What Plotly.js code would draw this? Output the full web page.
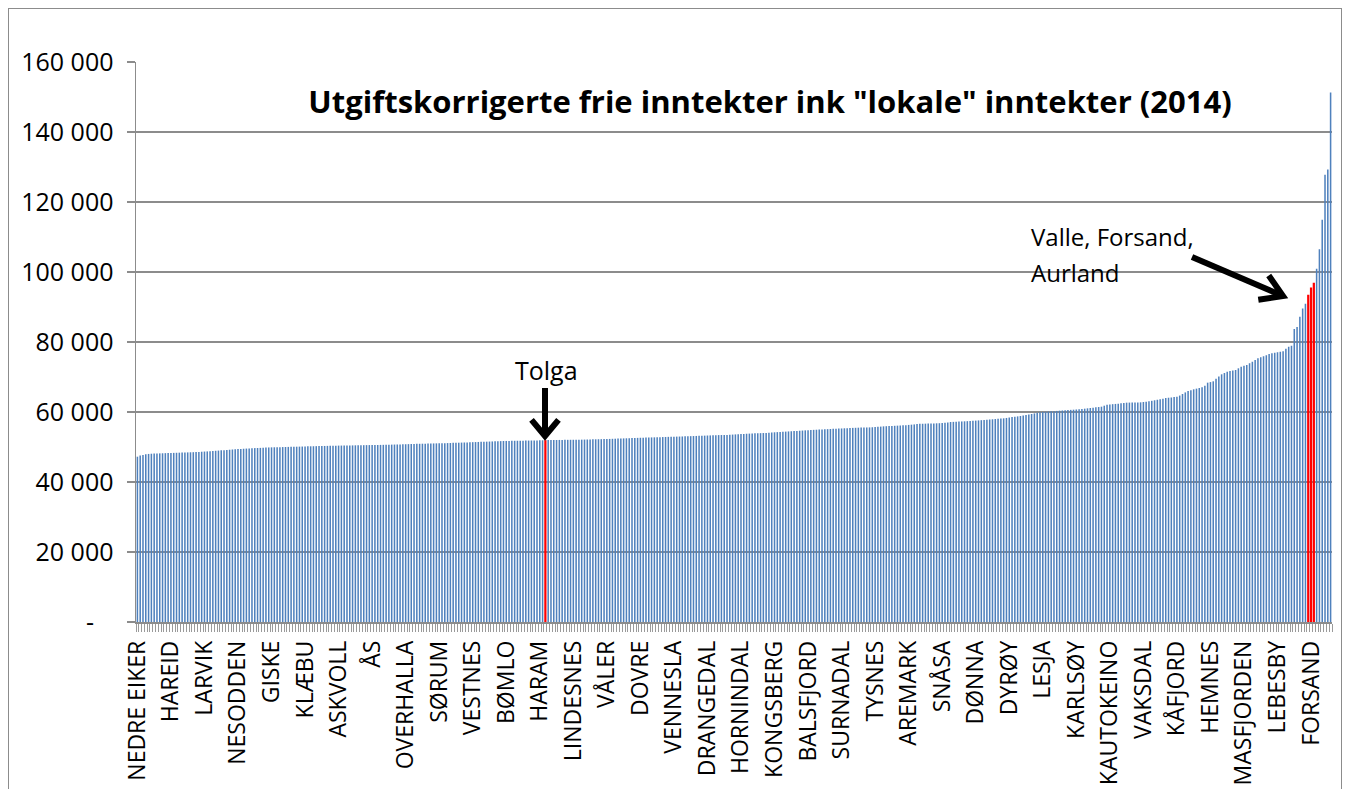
<!DOCTYPE html>
<html>
<head>
<meta charset="utf-8">
<script src="https://cdn.plot.ly/plotly-3.0.1.min.js"></script>
<style>
  html, body { margin: 0; padding: 0; background: #fff; overflow: hidden; }
  #chart { position: absolute; left: 0; top: 0; width: 1348px; height: 789px; }
  #frame { position: absolute; left: 8px; top: 8px; width: 1332px; height: 900px;
           border: 1.5px solid #8c8c8c; pointer-events: none; z-index: 10; }
</style>
</head>
<body>
<div id="chart"></div>
<div id="frame"></div>
<script>
// Utgiftskorrigerte frie inntekter (kr per innbygger), sorted ascending, 428 kommuner
const values = [
  47230, 47580, 47720, 47950, 48020, 48080, 48120, 48150, 48180, 48210, 48240, 48270,
  48300, 48320, 48350, 48380, 48400, 48430, 48460, 48490, 48520, 48560, 48600, 48650,
  48700, 48740, 48790, 48850, 48920, 48980, 49040, 49100, 49160, 49220, 49290, 49350,
  49400, 49450, 49500, 49550, 49600, 49650, 49680, 49710, 49750, 49790, 49830, 49870,
  49900, 49920, 49940, 49960, 49980, 50000, 50030, 50050, 50070, 50090, 50110, 50130,
  50160, 50180, 50200, 50220, 50240, 50260, 50280, 50300, 50320, 50340, 50360, 50380,
  50400, 50410, 50420, 50440, 50450, 50460, 50480, 50490, 50510, 50520, 50540, 50550,
  50560, 50570, 50580, 50600, 50620, 50640, 50660, 50680, 50700, 50720, 50740, 50760,
  50790, 50820, 50860, 50880, 50900, 50920, 50940, 50960, 50980, 51000, 51020, 51040,
  51060, 51080, 51100, 51120, 51150, 51180, 51200, 51230, 51260, 51290, 51320, 51350,
  51380, 51410, 51440, 51470, 51500, 51530, 51560, 51590, 51620, 51650, 51680, 51710,
  51730, 51750, 51760, 51780, 51790, 51800, 51820, 51830, 51840, 51860, 51870, 51890,
  51900, 51920, 51950, 51970, 51990, 52000, 52010, 52020, 52030, 52040, 52050, 52060,
  52070, 52080, 52090, 52100, 52120, 52140, 52160, 52180, 52200, 52220, 52240, 52270,
  52290, 52310, 52340, 52370, 52400, 52430, 52460, 52490, 52520, 52550, 52580, 52610,
  52640, 52670, 52700, 52720, 52740, 52760, 52780, 52810, 52840, 52870, 52900, 52930,
  52950, 52970, 52990, 53010, 53040, 53070, 53100, 53130, 53160, 53190, 53220, 53250,
  53280, 53310, 53340, 53370, 53400, 53420, 53430, 53460, 53500, 53550, 53600, 53660,
  53710, 53750, 53790, 53830, 53870, 53900, 53930, 53960, 53990, 54030, 54080, 54150,
  54200, 54250, 54300, 54350, 54400, 54450, 54500, 54550, 54600, 54650, 54700, 54760,
  54820, 54860, 54900, 54940, 54980, 55020, 55060, 55100, 55140, 55180, 55220, 55260,
  55300, 55350, 55390, 55430, 55460, 55490, 55520, 55540, 55560, 55580, 55600, 55640,
  55700, 55760, 55830, 55900, 55940, 55980, 56020, 56060, 56100, 56140, 56190, 56240,
  56310, 56380, 56450, 56570, 56610, 56640, 56670, 56700, 56730, 56750, 56770, 56800,
  56860, 56940, 57030, 57140, 57180, 57220, 57260, 57300, 57340, 57380, 57430, 57480,
  57540, 57600, 57670, 57730, 57800, 57860, 57920, 57990, 58060, 58120, 58190, 58300,
  58420, 58540, 58650, 58750, 58860, 59000, 59140, 59290, 59430, 59600, 59760, 59910,
  59990, 60060, 60120, 60180, 60250, 60310, 60380, 60440, 60490, 60550, 60610, 60660,
  60720, 60770, 60850, 60950, 61050, 61140, 61230, 61330, 61420, 61520, 61800, 62090,
  62170, 62240, 62310, 62380, 62480, 62580, 62670, 62690, 62710, 62730, 62740, 62760,
  62860, 62950, 63050, 63200, 63350, 63500, 63650, 63820, 64000, 64080, 64150, 64260,
  64380, 64700, 65140, 65600, 66000, 66250, 66480, 66670, 66860, 67100, 67520, 68380,
  68550, 68770, 69520, 70150, 70770, 71150, 71520, 71700, 71850, 72000, 72480, 72950,
  73200, 73430, 73900, 74370, 74850, 75340, 75620, 75910, 76240, 76570, 76800, 76950,
  77050, 77200, 77340, 78090, 78660, 78900, 83700, 84300, 87200, 89600, 90900, 93500,
  95600, 96900, 100900, 106500, 114900, 127800, 129300, 151300
];

// Every 12th kommune is labelled on the category axis
const tickLabels = [
  "NEDRE EIKER", "HAREID", "LARVIK", "NESODDEN", "GISKE", "KLÆBU", "ASKVOLL", "ÅS",
  "OVERHALLA", "SØRUM", "VESTNES", "BØMLO", "HARAM", "LINDESNES", "VÅLER", "DOVRE",
  "VENNESLA", "DRANGEDAL", "HORNINDAL", "KONGSBERG", "BALSFJORD", "SURNADAL", "TYSNES",
  "AREMARK", "SNÅSA", "DØNNA", "DYRØY", "LESJA", "KARLSØY", "KAUTOKEINO", "VAKSDAL",
  "KÅFJORD", "HEMNES", "MASFJORDEN", "LEBESBY", "FORSAND"
];
const labelEvery = 12;

// Highlighted kommuner (index in sorted order)
const highlightNames = ["TOLGA", "VALLE", "FORSAND", "AURLAND"];
const highlightIdx = [146, 419, 420, 421];

const yTickVals = [0, 20000, 40000, 60000, 80000, 100000, 120000, 140000, 160000];
const yTickText = ["-\u00a0\u00a0\u00a0", "20 000", "40 000", "60 000", "80 000", "100 000", "120 000", "140 000", "160 000"];

const titleText = 'Utgiftskorrigerte frie inntekter ink "lokale" inntekter (2014)';

// ---------- build ----------
const xIdx = values.map((_, i) => i);
const tickPos = tickLabels.map((_, k) => k * labelEvery);
const isHi = i => highlightIdx.indexOf(i) >= 0;
const barColors = xIdx.map(i => isHi(i) ? '#FF0000' : '#4F81BD');
const barWidths = xIdx.map(i => isHi(i) ? 0.8 : 0.55);

// pixel -> paper helpers for decorations
const L = 136, R = 16, T = 62, B = 167, W = 1348, H = 789;
const PW = W - L - R, PH = H - T - B;
const px = x => (x - L) / PW;
const py = y => (H - B - y) / PH;

const font = 'Open Sans, DejaVu Sans, sans-serif';

function arrowShapes(x0, y0, x1, y1, wing, ang) {
  const dx = x1 - x0, dy = y1 - y0, len = Math.hypot(dx, dy);
  const ux = dx / len, uy = dy / len;
  const bx = -ux, by = -uy;
  const rot = (a) => [bx * Math.cos(a) - by * Math.sin(a), bx * Math.sin(a) + by * Math.cos(a)];
  const a = ang * Math.PI / 180;
  const w1 = rot(a), w2 = rot(-a);
  const sx = x1 - ux * 3, sy = y1 - uy * 3;
  const line = { type: 'line', xref: 'paper', yref: 'paper', layer: 'above',
    x0: px(x0), y0: py(y0), x1: px(sx), y1: py(sy),
    line: { color: '#000', width: 6 } };
  const p = (x, y) => px(x).toFixed(5) + ',' + py(y).toFixed(5);
  const head = { type: 'path', xref: 'paper', yref: 'paper', layer: 'above',
    path: 'M' + p(x1 + w1[0] * wing, y1 + w1[1] * wing) + ' L' + p(x1, y1) + ' L' + p(x1 + w2[0] * wing, y1 + w2[1] * wing),
    line: { color: '#000', width: 6 } };
  return [line, head];
}

const shapes = [].concat(
  arrowShapes(545, 388, 545, 436, 21, 40),
  arrowShapes(1192, 257, 1283, 296, 25, 32)
);

const trace = {
  type: 'bar',
  x: xIdx,
  y: values,
  width: barWidths,
  marker: { color: barColors, line: { width: 0 } },
  hoverinfo: 'y'
};

const layout = {
  width: W, height: H,
  margin: { l: L, r: R, t: T, b: B, pad: 0 },
  paper_bgcolor: '#fff', plot_bgcolor: '#fff',
  showlegend: false,
  title: {
    text: titleText,
    font: { family: font, size: 31, color: '#000', weight: 'bold' },
    xref: 'container', yref: 'container',
    x: 770 / W, xanchor: 'center',
    y: 1 - 102 / H, yanchor: 'middle'
  },
  xaxis: {
    range: [-0.5, values.length - 0.5],
    tickmode: 'array', tickvals: tickPos, ticktext: tickLabels,
    tickangle: -90,
    tickfont: { family: font, size: 23, color: '#000' },
    ticks: '', ticklabelstandoff: 8,
    showgrid: false, zeroline: false,
    showline: true, linecolor: '#8c8c8c', linewidth: 1.5,
    minor: { tickmode: 'linear', tick0: -0.5, dtick: 1, ticks: 'outside',
             ticklen: 8, tickcolor: '#9a9a9a', tickwidth: 1, showgrid: false },
    fixedrange: true
  },
  yaxis: {
    range: [0, 160000],
    tickmode: 'array', tickvals: yTickVals, ticktext: yTickText,
    tickfont: { family: font, size: 25, color: '#000' },
    ticks: 'outside', ticklen: 8, tickcolor: '#8c8c8c', tickwidth: 1.5,
    ticklabelstandoff: 8,
    showgrid: true, gridcolor: '#8c8c8c', gridwidth: 1.5,
    zeroline: false,
    showline: true, linecolor: '#8c8c8c', linewidth: 1.5,
    fixedrange: true
  },
  shapes: shapes,
  annotations: [
    { text: 'Tolga', xref: 'paper', yref: 'paper', x: px(546), y: py(370),
      xanchor: 'center', yanchor: 'middle', showarrow: false,
      font: { family: font, size: 25, color: '#000' } },
    { text: 'Valle, Forsand,', xref: 'paper', yref: 'paper', x: px(1029), y: py(236),
      xanchor: 'left', yanchor: 'middle', showarrow: false,
      font: { family: font, size: 24, color: '#000' } },
    { text: 'Aurland', xref: 'paper', yref: 'paper', x: px(1029), y: py(272),
      xanchor: 'left', yanchor: 'middle', showarrow: false,
      font: { family: font, size: 24, color: '#000' } }
  ]
};

Plotly.newPlot('chart', [trace], layout, { staticPlot: true, displayModeBar: false });
</script>
</body>
</html>
